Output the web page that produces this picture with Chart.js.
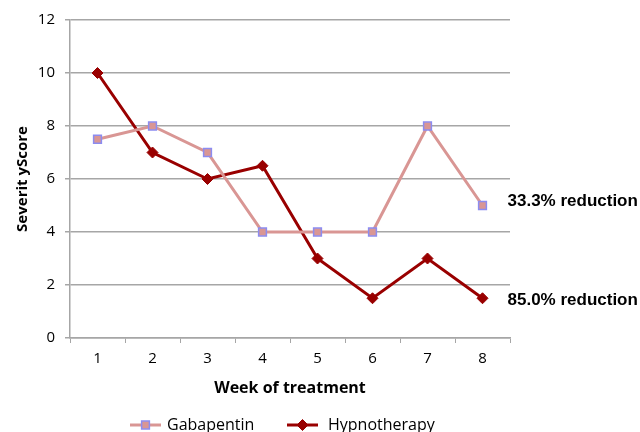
<!DOCTYPE html>
<html>
<head>
<meta charset="utf-8">
<script src="https://cdn.jsdelivr.net/npm/chart.js@4/dist/chart.umd.min.js"></script>
<style>
  html, body { margin: 0; padding: 0; background: #fff; }
  #wrap { width: 640px; height: 432px; }
</style>
</head>
<body>
<div id="wrap"><canvas id="chart" width="640" height="432"></canvas></div>
<script>
const weeks = ['1', '2', '3', '4', '5', '6', '7', '8'];
const gabapentin = [7.5, 8, 7, 4, 4, 4, 8, 5];
const hypnotherapy = [10, 7, 6, 6.5, 3, 1.5, 3, 1.5];
const endNotes = ['33.3% reduction', '85.0% reduction'];

const gabLine = '#d99694';
const gabEdge = '#8c8cf0';
const hypColor = '#990000';
const gridColor = '#a6a6a6';

// text to the right of each series' last point
const endNotePlugin = {
  id: 'endNotes',
  afterDatasetsDraw(chart) {
    const ctx = chart.ctx;
    const nudge = [-4, 2];
    ctx.save();
    ctx.font = 'bold 17px "Liberation Sans", Arial, sans-serif';
    ctx.fillStyle = '#000';
    ctx.textBaseline = 'middle';
    ctx.textAlign = 'left';
    chart.data.datasets.forEach((ds, i) => {
      const meta = chart.getDatasetMeta(i);
      const pt = meta.data[meta.data.length - 1];
      ctx.fillText(endNotes[i], pt.x + 25, pt.y + nudge[i]);
    });
    ctx.restore();
  }
};

// legend: short line with the marker in the middle, like the original
const lineLegendPlugin = {
  id: 'lineLegend',
  afterDraw(chart) {
    const ctx = chart.ctx;
    const y = 425;
    const items = [
      { x: 130, text: 'Gabapentin', tx: 167 },
      { x: 287, text: 'Hypnotherapy', tx: 328 }
    ];
    ctx.save();
    chart.data.datasets.forEach((ds, i) => {
      const it = items[i];
      ctx.strokeStyle = ds.borderColor;
      ctx.lineWidth = ds.borderWidth;
      ctx.beginPath();
      ctx.moveTo(it.x, y);
      ctx.lineTo(it.x + 31, y);
      ctx.stroke();
      ctx.fillStyle = ds.pointBackgroundColor;
      ctx.strokeStyle = ds.pointBorderColor;
      ctx.lineWidth = ds.pointBorderWidth;
      Chart.helpers.drawPoint(ctx, {
        pointStyle: ds.pointStyle,
        radius: ds.pointRadius,
        borderWidth: ds.pointBorderWidth
      }, it.x + 15.5, y);
      ctx.fillStyle = '#000';
      ctx.font = '16px "Open Sans", sans-serif';
      ctx.textBaseline = 'middle';
      ctx.textAlign = 'left';
      ctx.fillText(it.text, it.tx, y);
    });
    ctx.restore();
  }
};

new Chart(document.getElementById('chart').getContext('2d'), {
  type: 'line',
  data: {
    labels: weeks,
    datasets: [{
      label: 'Gabapentin',
      data: gabapentin,
      borderColor: gabLine,
      borderWidth: 3,
      pointStyle: 'rect',
      pointRadius: 5.5,
      pointBorderWidth: 1.5,
      pointBackgroundColor: gabLine,
      pointBorderColor: gabEdge,
      tension: 0
    }, {
      label: 'Hypnotherapy',
      data: hypnotherapy,
      borderColor: hypColor,
      borderWidth: 3,
      pointStyle: 'rectRot',
      pointRadius: 5.5,
      pointBorderWidth: 1,
      pointBackgroundColor: hypColor,
      pointBorderColor: hypColor,
      tension: 0
    }]
  },
  options: {
    responsive: false,
    animation: false,
    layout: { padding: { left: 0, right: 130, top: 20, bottom: 30 } },
    plugins: {
      legend: { display: false },
      tooltip: { enabled: false }
    },
    scales: {
      x: {
        offset: true,
        grid: {
          offset: true,
          drawOnChartArea: false,
          drawTicks: true,
          tickLength: 5,
          color: gridColor
        },
        border: { color: gridColor, width: 1.5 },
        ticks: {
          color: '#000',
          padding: 7,
          font: { family: '"Open Sans", sans-serif', size: 15 }
        },
        title: {
          display: true,
          text: 'Week of treatment',
          color: '#000',
          font: { family: '"Open Sans", sans-serif', size: 16, weight: 'bold' },
          padding: { top: 0, bottom: 4 }
        },
        afterFit(scale) { scale.height = 64; }
      },
      y: {
        min: 0,
        max: 12,
        ticks: {
          stepSize: 2,
          color: '#000',
          padding: 10,
          font: { family: '"Open Sans", sans-serif', size: 15 }
        },
        grid: {
          color: gridColor,
          lineWidth: 1.5,
          tickLength: 5
        },
        border: { color: gridColor, width: 1.5 },
        title: {
          display: true,
          text: 'Severit yScore',
          color: '#000',
          font: { family: '"Open Sans", sans-serif', size: 15, weight: 'bold' },
          padding: { top: 14, bottom: 14 }
        },
        afterFit(scale) { scale.width = 70; }
      }
    }
  },
  plugins: [endNotePlugin, lineLegendPlugin]
});
</script>
</body>
</html>
